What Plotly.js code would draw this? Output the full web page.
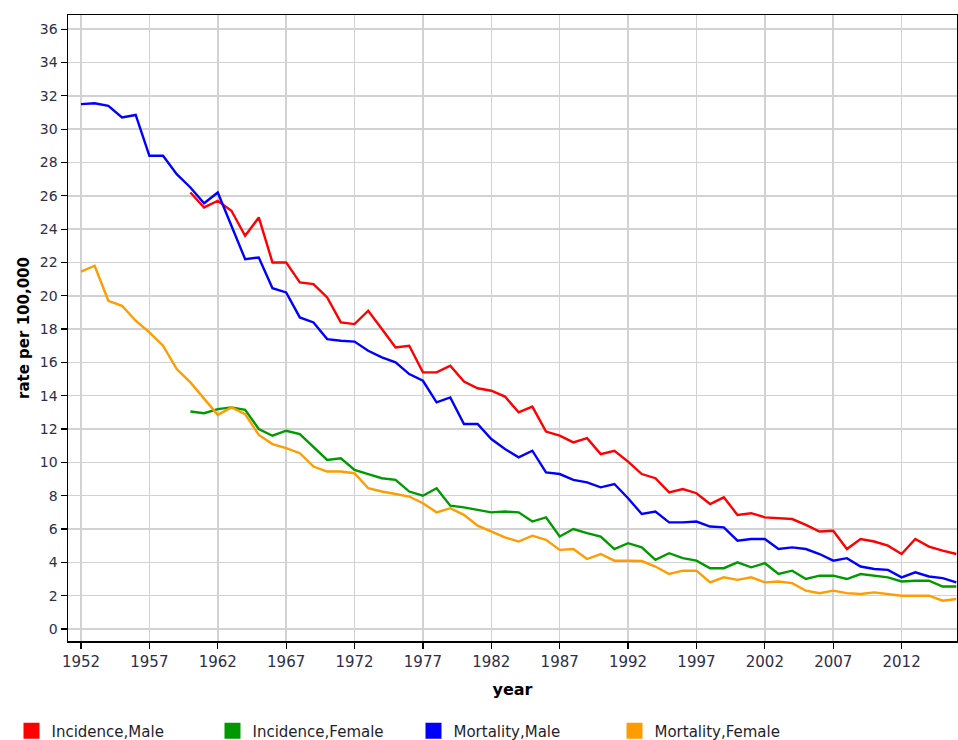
<!DOCTYPE html>
<html>
<head>
<meta charset="utf-8">
<script src="https://cdn.plot.ly/plotly-3.0.1.min.js"></script>
<style>html,body{margin:0;padding:0;background:#fff;}#chart{width:958px;height:740px;}</style>
</head>
<body>
<div id="chart"></div>
<script>
var yearsAll = [1952,1953,1954,1955,1956,1957,1958,1959,1960,1961,1962,1963,1964,1965,1966,1967,1968,1969,1970,1971,1972,1973,1974,1975,1976,1977,1978,1979,1980,1981,1982,1983,1984,1985,1986,1987,1988,1989,1990,1991,1992,1993,1994,1995,1996,1997,1998,1999,2000,2001,2002,2003,2004,2005,2006,2007,2008,2009,2010,2011,2012,2013,2014,2015,2016];
var yearsInc = [1960,1961,1962,1963,1964,1965,1966,1967,1968,1969,1970,1971,1972,1973,1974,1975,1976,1977,1978,1979,1980,1981,1982,1983,1984,1985,1986,1987,1988,1989,1990,1991,1992,1993,1994,1995,1996,1997,1998,1999,2000,2001,2002,2003,2004,2005,2006,2007,2008,2009,2010,2011,2012,2013,2014,2015,2016];

var incidenceMale = [26.2,25.3,25.7,25.1,23.6,24.7,22.0,22.0,20.8,20.7,
  19.9,18.4,18.3,19.1,18.0,16.9,17.0,15.4,15.4,15.8,
  14.85,14.45,14.3,13.95,13.0,13.35,11.85,11.6,11.2,11.45,
  10.5,10.7,10.05,9.3,9.05,8.2,8.4,8.15,7.5,7.9,
  6.85,6.95,6.7,6.65,6.6,6.25,5.85,5.9,4.8,5.4,
  5.25,5.0,4.5,5.4,4.95,4.7,4.5];
var incidenceFemale = [13.05,12.95,13.2,13.3,13.15,12.0,11.6,11.9,11.7,10.9,
  10.15,10.25,9.55,9.3,9.05,8.95,8.25,8.0,8.45,7.4,
  7.3,7.15,7.0,7.05,7.0,6.45,6.7,5.55,6.0,5.75,
  5.55,4.8,5.15,4.9,4.15,4.55,4.25,4.1,3.65,3.65,
  4.0,3.7,3.95,3.3,3.5,3.0,3.2,3.2,3.0,3.3,
  3.2,3.1,2.85,2.9,2.9,2.55,2.55];
var mortalityMale = [31.5,31.55,31.4,30.7,30.85,28.4,28.4,27.3,26.5,25.55,
  26.2,24.2,22.2,22.3,20.45,20.2,18.7,18.4,17.4,17.3,
  17.25,16.7,16.3,16.0,15.3,14.9,13.6,13.9,12.3,12.3,
  11.4,10.8,10.3,10.7,9.4,9.3,8.95,8.8,8.5,8.7,
  7.85,6.9,7.05,6.4,6.4,6.45,6.15,6.1,5.3,5.4,
  5.4,4.8,4.9,4.8,4.5,4.1,4.25,3.75,3.6,3.55,
  3.1,3.4,3.15,3.05,2.8];
var mortalityFemale = [21.45,21.8,19.7,19.4,18.5,17.8,17.0,15.6,14.8,13.85,
  12.85,13.3,12.9,11.65,11.1,10.85,10.55,9.75,9.45,9.45,
  9.35,8.45,8.25,8.1,7.95,7.55,7.0,7.25,6.85,6.2,
  5.85,5.5,5.25,5.6,5.35,4.75,4.8,4.2,4.5,4.1,
  4.1,4.08,3.75,3.3,3.5,3.5,2.8,3.1,2.95,3.1,
  2.8,2.85,2.75,2.3,2.15,2.3,2.15,2.1,2.2,2.1,
  2.0,2.0,2.0,1.7,1.8];

var seriesNames = ['Incidence,Male','Incidence,Female','Mortality,Male','Mortality,Female'];
var seriesColors = ['#ff0000','#009a00','#0000ff','#ff9c00'];
var seriesX = [yearsInc, yearsInc, yearsAll, yearsAll];
var seriesY = [incidenceMale, incidenceFemale, mortalityMale, mortalityFemale];

var xTickVals = [1952,1957,1962,1967,1972,1977,1982,1987,1992,1997,2002,2007,2012];
var yTickVals = [0,2,4,6,8,10,12,14,16,18,20,22,24,26,28,30,32,34,36];

var traces = [];
for (var i = 0; i < seriesNames.length; i++) {
  traces.push({
    x: seriesX[i], y: seriesY[i], type: 'scatter', mode: 'lines',
    name: seriesNames[i], showlegend: false, hoverinfo: 'x+y',
    line: {color: seriesColors[i], width: 2.4}
  });
}
for (var j = 0; j < seriesNames.length; j++) {
  traces.push({
    x: [null], y: [null], type: 'scatter', mode: 'markers',
    name: seriesNames[j], showlegend: true,
    marker: {symbol: 'square', size: 17, color: seriesColors[j]}
  });
}

var layout = {
  width: 958, height: 740,
  margin: {l: 68, r: 1, t: 15, b: 99},
  paper_bgcolor: '#ffffff', plot_bgcolor: '#ffffff',
  showlegend: true,
  xaxis: {
    range: [1951.05, 2016.05],
    tickmode: 'array', tickvals: xTickVals, ticktext: xTickVals.map(String),
    showgrid: true, gridcolor: '#d2d2d2', gridwidth: 1.5,
    zeroline: false,
    showline: true, linecolor: '#000000', linewidth: 1.5, mirror: true,
    ticks: 'outside', ticklen: 6, tickcolor: '#000000', tickwidth: 1.2,
    tickfont: {family: 'DejaVu Sans, sans-serif', size: 15, color: '#2e2e48'},
    title: {text: 'year', font: {family: 'DejaVu Sans, sans-serif', size: 16, color: '#000000', weight: 'bold'}, standoff: 14}
  },
  yaxis: {
    range: [-0.72, 36.85],
    tickmode: 'array', tickvals: yTickVals, ticktext: yTickVals.map(String),
    showgrid: true, gridcolor: '#d2d2d2', gridwidth: 1.5,
    zeroline: false,
    showline: true, linecolor: '#000000', linewidth: 1.5, mirror: true,
    ticks: 'outside', ticklen: 6, tickcolor: '#000000', tickwidth: 1.2,
    tickfont: {family: 'DejaVu Sans, sans-serif', size: 14, color: '#2e2e48'},
    title: {text: 'rate per 100,000', font: {family: 'DejaVu Sans, sans-serif', size: 15, color: '#000000', weight: 'bold'}, standoff: 6}
  },
  legend: {
    orientation: 'h',
    xref: 'container', yref: 'container',
    x: 0.012, y: 0.012, xanchor: 'left', yanchor: 'middle',
    entrywidth: 156, entrywidthmode: 'pixels',
    font: {family: 'DejaVu Sans, sans-serif', size: 15, color: '#1e1e2e'},
    bgcolor: 'rgba(0,0,0,0)', borderwidth: 0,
    itemclick: false, itemdoubleclick: false
  }
};

Plotly.newPlot('chart', traces, layout, {displayModeBar: false, staticPlot: true});
</script>
</body>
</html>
